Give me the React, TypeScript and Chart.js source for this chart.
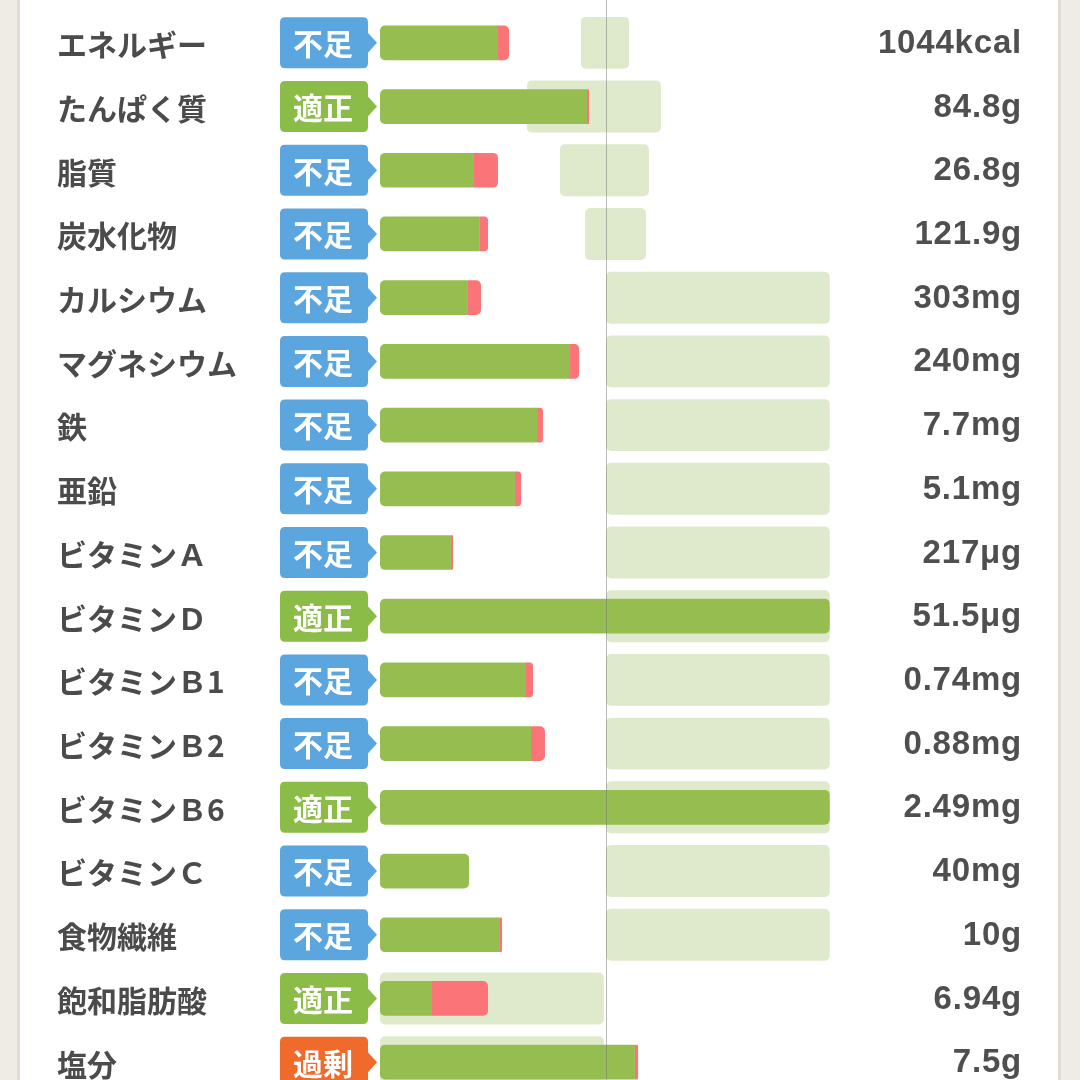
import React, { useEffect, useRef } from "react";
import { Chart, registerables } from "chart.js";

Chart.register(...registerables);

const categories = [
  "エネルギー", "たんぱく質", "脂質", "炭水化物", "カルシウム", "マグネシウム",
  "鉄", "亜鉛", "ビタミンＡ", "ビタミンＤ", "ビタミンＢ1", "ビタミンＢ2",
  "ビタミンＢ6", "ビタミンＣ", "食物繊維", "飽和脂肪酸", "塩分",
];
const statuses = [
  "不足", "適正", "不足", "不足", "不足", "不足", "不足", "不足", "不足",
  "適正", "不足", "不足", "適正", "不足", "不足", "適正", "過剰",
];
const amounts = [
  "1044kcal", "84.8g", "26.8g", "121.9g", "303mg", "240mg", "7.7mg", "5.1mg",
  "217μg", "51.5μg", "0.74mg", "0.88mg", "2.49mg", "40mg", "10g", "6.94g", "7.5g",
];
// percent of target (bar end of green part, end of red part)
const mainPct = [52.2, 91.6, 41.2, 44.2, 38.9, 84.1, 69.5, 59.7, 31.4, 199, 64.6, 66.8, 199, 39.4, 52.7, 23.0, 112.8];
const extraPct = [57.1, 92.5, 52.2, 47.8, 44.7, 88.1, 72.1, 62.4, 32.3, 199, 67.7, 73.0, 199, 39.4, 54.0, 47.8, 114.2];
// recommended range band
const rangeLow = [88.9, 65.0, 79.6, 90.7, 100, 100, 100, 100, 100, 100, 100, 100, 100, 100, 100, 0, 0];
const rangeHigh = [110.2, 124.3, 119.0, 117.7, 199, 199, 199, 199, 199, 199, 199, 199, 199, 199, 199, 99, 99];
const targetPct = 100;
const axisMax = 200;

const badgeColors: Record<string, string> = {
  "不足": "#5ba6de",
  "適正": "#8cbc48",
  "過剰": "#f06a2b",
};

function rr(ctx: CanvasRenderingContext2D, x: number, y: number, w: number, h: number, r: number) {
  ctx.beginPath();
  ctx.moveTo(x + r, y);
  ctx.lineTo(x + w - r, y);
  ctx.quadraticCurveTo(x + w, y, x + w, y + r);
  ctx.lineTo(x + w, y + h - r);
  ctx.quadraticCurveTo(x + w, y + h, x + w - r, y + h);
  ctx.lineTo(x + r, y + h);
  ctx.quadraticCurveTo(x, y + h, x, y + h - r);
  ctx.lineTo(x, y + r);
  ctx.quadraticCurveTo(x, y, x + r, y);
  ctx.closePath();
}

const framePlugin = {
  id: "frame",
  beforeDraw(chart: any) {
    const ctx = chart.ctx as CanvasRenderingContext2D;
    const W = chart.width, H = chart.height;
    ctx.save();
    ctx.fillStyle = "#eeece5";
    ctx.fillRect(0, 0, W, H);
    ctx.fillStyle = "#dedcd3";
    ctx.fillRect(17, 0, 3, H);
    ctx.fillRect(1058, 0, 3, H);
    ctx.fillStyle = "#ffffff";
    ctx.fillRect(20, 0, 1038, H);
    ctx.restore();
  },
  afterDatasetsDraw(chart: any) {
    const ctx = chart.ctx as CanvasRenderingContext2D;
    const xs = chart.scales.x;
    const ys = chart.scales.y;
    ctx.save();
    // target line
    const lx = Math.round(xs.getPixelForValue(targetPct)) + 0.5;
    ctx.strokeStyle = "rgba(120,120,120,0.5)";
    ctx.lineWidth = 1;
    ctx.beginPath();
    ctx.moveTo(lx, 0);
    ctx.lineTo(lx, chart.height);
    ctx.stroke();

    categories.forEach((label, i) => {
      const cy = ys.getPixelForValue(i);
      // label
      ctx.fillStyle = "#4b4b4b";
      ctx.font = 'bold 30px "Noto Sans CJK JP"';
      ctx.textAlign = "left";
      ctx.textBaseline = "middle";
      ctx.fillText(label, 57, cy + 2);
      // badge
      const st = statuses[i];
      ctx.fillStyle = badgeColors[st];
      rr(ctx, 280, cy - 25.5, 88, 51, 5);
      ctx.fill();
      ctx.beginPath();
      ctx.moveTo(367, cy - 11);
      ctx.lineTo(377, cy);
      ctx.lineTo(367, cy + 11);
      ctx.closePath();
      ctx.fill();
      ctx.fillStyle = "#ffffff";
      ctx.font = 'bold 30px "Noto Sans CJK JP"';
      ctx.textAlign = "center";
      ctx.fillText(st, 323, cy + 1);
      // amount
      ctx.fillStyle = "#4f4f4f";
      ctx.font = 'bold 33px "Liberation Sans"';
      (ctx as any).letterSpacing = "0.8px";
      ctx.textAlign = "right";
      ctx.fillText(amounts[i], 1022, cy + 1);
      (ctx as any).letterSpacing = "0px";
    });
    ctx.restore();
  },
};

export default function App() {
  const ref = useRef<HTMLCanvasElement | null>(null);
  useEffect(() => {
    if (!ref.current) return;
    const chart = new Chart(ref.current, {
      type: "bar",
      data: {
        labels: categories,
        datasets: [
          {
            label: "range",
            data: categories.map((_, i) => [rangeLow[i], rangeHigh[i]]) as any,
            backgroundColor: "#dfeacd",
            borderRadius: 5,
            borderSkipped: false,
            barPercentage: 0.815,
            categoryPercentage: 1,
            grouped: false,
            order: 3,
          },
          {
            label: "main",
            data: categories.map((_, i) => [0, mainPct[i]]) as any,
            backgroundColor: "#95bd50",
            borderRadius: (c: any) => {
              const i = c.dataIndex;
              const r = extraPct[i] > mainPct[i] ? 0 : 5;
              return { topLeft: 5, bottomLeft: 5, topRight: r, bottomRight: r };
            },
            borderSkipped: false,
            barPercentage: 0.545,
            categoryPercentage: 1,
            grouped: false,
            order: 2,
          },
          {
            label: "extra",
            data: categories.map((_, i) =>
              extraPct[i] > mainPct[i] ? [mainPct[i], extraPct[i]] : null
            ) as any,
            backgroundColor: "#fa7478",
            borderRadius: { topLeft: 0, bottomLeft: 0, topRight: 5, bottomRight: 5 },
            borderSkipped: false,
            barPercentage: 0.545,
            categoryPercentage: 1,
            grouped: false,
            order: 1,
          },
        ],
      },
      options: {
        indexAxis: "y",
        animation: false,
        responsive: false,
        devicePixelRatio: 1,
        layout: { padding: { left: 380, right: 248, top: 11, bottom: 6 } },
        scales: {
          x: { type: "linear", min: 0, max: axisMax, display: false },
          y: { type: "category", display: false },
        },
        plugins: {
          legend: { display: false },
          tooltip: { enabled: false },
        },
      } as any,
      plugins: [framePlugin],
    });
    return () => chart.destroy();
  }, []);
  return (
    <div
      style={{
        position: "fixed",
        left: 0,
        top: 0,
        width: 1080,
        height: 1080,
        overflow: "hidden",
        background: "#fff",
      }}
    >
      <canvas ref={ref} width={1080} height={1100} style={{ display: "block" }} />
    </div>
  );
}
